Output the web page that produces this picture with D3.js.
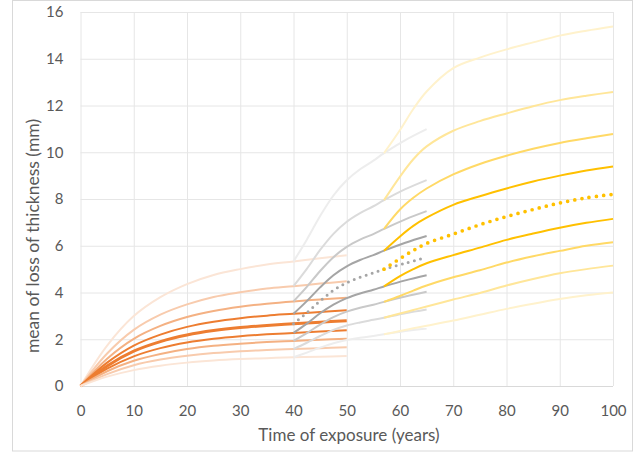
<!DOCTYPE html>
<html>
<head>
<meta charset="utf-8">
<script src="https://cdn.jsdelivr.net/npm/d3@7"></script>
<style>
  body { margin: 0; background: #fff; }
  text { font-family: Lato, "Open Sans", sans-serif; fill: #595959; }
</style>
</head>
<body>
<div id="chart"></div>
<script>
////////////////////////////////////////////////////////////////////////
// Data

// first period, 0-50 years (orange)
const orangeYears = [0, 5, 10, 15, 20, 25, 30, 35, 40, 45, 50];
const orangeSeries = [
  [0, 1.73, 2.99, 3.80, 4.36, 4.75, 5.00, 5.20, 5.33, 5.47, 5.59],
  [0, 1.39, 2.40, 3.05, 3.49, 3.81, 4.01, 4.17, 4.27, 4.38, 4.48],
  [0, 1.17, 2.02, 2.57, 2.95, 3.21, 3.39, 3.52, 3.62, 3.70, 3.78],
  [0, 1.00, 1.73, 2.20, 2.53, 2.75, 2.90, 3.01, 3.09, 3.17, 3.24],
  [0, 0.86, 1.49, 1.90, 2.18, 2.37, 2.50, 2.59, 2.66, 2.73, 2.79],
  [0, 0.74, 1.27, 1.62, 1.86, 2.02, 2.13, 2.21, 2.27, 2.33, 2.38],
  [0, 0.63, 1.08, 1.37, 1.58, 1.72, 1.81, 1.88, 1.93, 1.98, 2.02],
  [0, 0.51, 0.89, 1.13, 1.29, 1.41, 1.49, 1.54, 1.58, 1.62, 1.66],
  [0, 0.40, 0.68, 0.87, 1.00, 1.09, 1.15, 1.19, 1.23, 1.25, 1.28]
];

// second period, 40-65 years (gray)
const grayYears = [40, 42.5, 45, 47.5, 50, 52.5, 55, 57, 61, 65];
const graySeries = [
  [5.33, 6.26, 7.27, 8.15, 8.80, 9.27, 9.64, 9.96, 10.52, 10.99],
  [4.27, 5.01, 5.82, 6.51, 7.03, 7.40, 7.69, 7.95, 8.42, 8.81],
  [3.62, 4.24, 4.92, 5.51, 5.95, 6.26, 6.50, 6.72, 7.13, 7.48],
  [3.09, 3.63, 4.22, 4.74, 5.12, 5.39, 5.60, 5.79, 6.13, 6.42],
  [2.27, 2.67, 3.11, 3.48, 3.76, 3.96, 4.12, 4.26, 4.52, 4.74],
  [1.93, 2.26, 2.63, 2.95, 3.18, 3.35, 3.48, 3.60, 3.83, 4.03],
  [1.58, 1.85, 2.14, 2.40, 2.59, 2.72, 2.83, 2.92, 3.11, 3.27],
  [1.23, 1.43, 1.64, 1.83, 1.97, 2.06, 2.14, 2.21, 2.35, 2.46]
];
const grayMeanYears = [40, 42.5, 45, 47.5, 50, 52.5, 55, 57, 61, 64];
const grayMean = [2.66, 3.13, 3.64, 4.09, 4.42, 4.65, 4.84, 5.00, 5.25, 5.44];

// third period, 57-100 years (yellow)
const yellowYears = [57, 60, 62.5, 65, 70, 75, 80, 85, 90, 95, 100];
const yellowSeries = [
  [9.96, 10.95, 11.85, 12.6, 13.6, 14.05, 14.4, 14.7, 14.99, 15.2, 15.38],
  [7.95, 8.96, 9.7, 10.25, 10.92, 11.33, 11.66, 11.97, 12.23, 12.42, 12.58],
  [6.72, 7.55, 8.05, 8.45, 9.05, 9.5, 9.85, 10.15, 10.4, 10.6, 10.78],
  [5.79, 6.4, 6.85, 7.2, 7.75, 8.12, 8.45, 8.75, 9.0, 9.22, 9.39],
  [4.26, 4.7, 5.0, 5.25, 5.6, 5.92, 6.25, 6.52, 6.77, 6.98, 7.15],
  [3.60, 3.85, 4.08, 4.3, 4.65, 4.95, 5.28, 5.55, 5.78, 6.0, 6.15],
  [2.92, 3.1, 3.25, 3.4, 3.7, 3.98, 4.3, 4.58, 4.82, 5.0, 5.15],
  [2.21, 2.35, 2.47, 2.58, 2.8, 3.05, 3.3, 3.52, 3.72, 3.88, 4.0]
];
const yellowMean = [5.0, 5.45, 5.8, 6.1, 6.5, 6.9, 7.25, 7.55, 7.83, 8.05, 8.2];

// axis ticks
const xTicks = [0, 10, 20, 30, 40, 50, 60, 70, 80, 90, 100];
const yTicks = [0, 2, 4, 6, 8, 10, 12, 14, 16];

// line colours (tints of the office palette, light at the edges)
const orangeColors = ["#fbe5d6", "#f8cbad", "#f4b183", "#ed7d31", "#ed7d31", "#ed7d31", "#f4b183", "#f8cbad", "#fbe5d6"];
const orangeWidths = [2, 2, 2, 2, 3, 2, 2, 2, 2];
const grayColors = ["#ededed", "#dbdbdb", "#c9c9c9", "#a5a5a5", "#a5a5a5", "#c9c9c9", "#dbdbdb", "#ededed"];
const yellowColors = ["#fff2cc", "#ffe699", "#ffd966", "#ffc000", "#ffc000", "#ffd966", "#ffe699", "#fff2cc"];

////////////////////////////////////////////////////////////////////////
// Layout

const width = 634, height = 452;

const svg = d3.select("#chart")
  .append("svg")
  .attr("width", width)
  .attr("height", height);

// outer chart border
svg.append("rect")
  .attr("x", 12.5)
  .attr("y", 0.5)
  .attr("width", 620)
  .attr("height", 450.5)
  .attr("fill", "none")
  .attr("stroke", "#d9d9d9");

const xScale = d3.scaleLinear().domain([0, 100]).range([80.5, 613]);
const yScale = d3.scaleLinear().domain([0, 16]).range([386, 12]);

// gridlines
svg.append("g")
  .attr("class", "xgrid")
  .attr("transform", "translate(0, 386)")
  .call(d3.axisBottom(xScale).tickValues(xTicks).tickSize(-(386 - 12)).tickFormat(""))
  .call(g => g.select(".domain").remove())
  .selectAll("line").attr("stroke", "#e6e6e6");

svg.append("g")
  .attr("class", "ygrid")
  .attr("transform", "translate(80.5, 0)")
  .call(d3.axisLeft(yScale).tickValues(yTicks).tickSize(-(613 - 80.5)).tickFormat(""))
  .call(g => g.select(".domain").remove())
  .selectAll("line").attr("stroke", d => d == 0 ? "#d9d9d9" : "#e6e6e6");

// tick labels
svg.append("g")
  .attr("transform", "translate(0, 386)")
  .call(d3.axisBottom(xScale).tickValues(xTicks).tickSize(0).tickPadding(19))
  .call(g => g.select(".domain").remove())
  .selectAll("text")
  .attr("font-size", 15)
  .attr("font-family", "Lato")
  .attr("fill", "#595959");

svg.append("g")
  .attr("transform", "translate(80.5, 0)")
  .call(d3.axisLeft(yScale).tickValues(yTicks).tickSize(0).tickPadding(17))
  .call(g => g.select(".domain").remove())
  .selectAll("text")
  .attr("font-size", 15)
  .attr("font-family", "Lato")
  .attr("fill", "#595959");

// axis titles
svg.append("text")
  .attr("x", 349)
  .attr("y", 441)
  .attr("text-anchor", "middle")
  .attr("font-size", 17)
  .text("Time of exposure (years)");

svg.append("text")
  .attr("transform", "translate(39, 236) rotate(-90)")
  .attr("text-anchor", "middle")
  .attr("font-size", 17.5)
  .text("mean of loss of thickness (mm)");

////////////////////////////////////////////////////////////////////////
// Curves

const line = d3.line()
  .x(d => xScale(d[0]))
  .y(d => yScale(d[1]))
  .curve(d3.curveCatmullRom.alpha(0.5));

function pairs(years, vals) {
  return years.map((t, i) => [t, vals[i]]);
}

svg.append("g")
  .attr("class", "orange")
  .selectAll("path")
  .data(orangeSeries)
  .enter()
  .append("path")
  .attr("d", d => line(pairs(orangeYears, d)))
  .attr("fill", "none")
  .attr("stroke", (d, i) => orangeColors[i])
  .attr("stroke-width", (d, i) => orangeWidths[i]);

svg.append("g")
  .attr("class", "gray")
  .selectAll("path")
  .data(graySeries)
  .enter()
  .append("path")
  .attr("d", d => line(pairs(grayYears, d)))
  .attr("fill", "none")
  .attr("stroke", (d, i) => grayColors[i])
  .attr("stroke-width", 2);

svg.append("path")
  .attr("d", line(pairs(grayMeanYears, grayMean)))
  .attr("fill", "none")
  .attr("stroke", "#a5a5a5")
  .attr("stroke-width", 3)
  .attr("stroke-linecap", "round")
  .attr("stroke-dasharray", "0 6.3");

svg.append("g")
  .attr("class", "yellow")
  .selectAll("path")
  .data(yellowSeries)
  .enter()
  .append("path")
  .attr("d", d => line(pairs(yellowYears, d)))
  .attr("fill", "none")
  .attr("stroke", (d, i) => yellowColors[i])
  .attr("stroke-width", 2);

svg.append("path")
  .attr("d", line(pairs(yellowYears, yellowMean)))
  .attr("fill", "none")
  .attr("stroke", "#ffc000")
  .attr("stroke-width", 3.7)
  .attr("stroke-linecap", "round")
  .attr("stroke-dasharray", "0 7.3");
</script>
</body>
</html>
